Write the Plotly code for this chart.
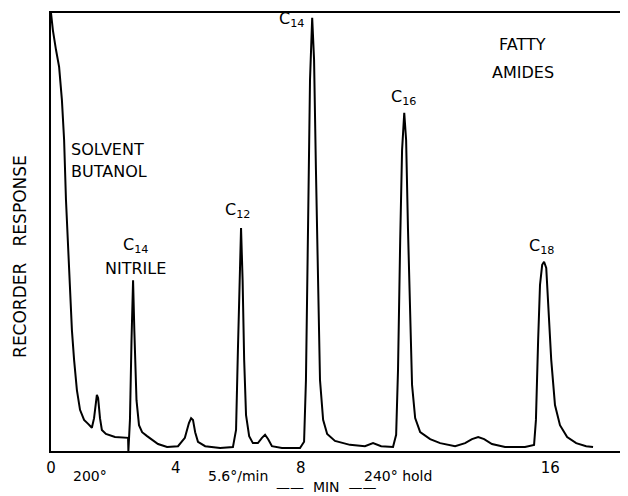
import plotly.graph_objects as go

TIME_MIN = [0.00, 0.06, 0.16, 0.26, 0.35, 0.42, 0.48, 0.54, 0.61, 0.67, 0.74, 0.83, 0.93, 1.06, 1.19, 1.31,
            1.38, 1.44, 1.47, 1.51, 1.57, 1.63, 1.76, 2.05, 2.47, 2.48, 2.53, 2.58, 2.63, 2.67, 2.74, 2.82,
            2.92, 3.08, 3.24, 3.43, 3.72, 4.07, 4.29, 4.42, 4.49, 4.55, 4.62, 4.71, 4.94, 5.42, 5.83, 5.93,
            5.99, 6.04, 6.09, 6.14, 6.19, 6.25, 6.35, 6.47, 6.63, 6.76, 6.86, 6.96, 7.08, 7.40, 7.98, 8.11,
            8.17, 8.24, 8.30, 8.37, 8.43, 8.49, 8.56, 8.62, 8.72, 8.85, 9.10, 9.58, 10.06, 10.32, 10.58, 10.96,
            11.06, 11.12, 11.19, 11.25, 11.32, 11.38, 11.44, 11.51, 11.57, 11.67, 11.83, 12.15, 12.47, 12.95,
            13.27, 13.49, 13.69, 13.88, 14.13, 14.55, 15.19, 15.48, 15.54, 15.61, 15.67, 15.74, 15.80, 15.87,
            15.93, 16.03, 16.15, 16.31, 16.54, 16.83, 17.15, 17.37]
RESPONSE = [100.0, 96.1, 91.6, 87.7, 80.1, 71.0, 57.3, 48.2, 37.9, 27.6, 20.8, 13.9, 9.4, 7.1, 6.2, 5.3,
            7.5, 12.1, 12.8, 12.1, 7.5, 4.8, 3.9, 3.2, 3.0, 0.0, 7.1, 25.3, 39.0, 27.6, 11.6, 5.9,
            4.3, 3.4, 2.5, 1.6, 0.9, 1.1, 3.0, 6.4, 7.5, 7.1, 4.3, 2.1, 1.1, 0.7, 0.9, 4.8,
            23.1, 39.0, 50.9, 39.0, 20.8, 8.2, 3.4, 1.8, 1.8, 3.0, 3.7, 2.7, 1.1, 0.7, 0.7, 2.1,
            16.2, 52.7, 84.7, 98.9, 89.3, 64.2, 36.8, 16.2, 7.1, 3.9, 2.3, 1.4, 1.1, 1.8, 1.1, 0.9,
            3.7, 18.5, 48.2, 68.7, 77.2, 71.0, 50.5, 29.9, 15.1, 7.5, 4.3, 2.7, 1.8, 1.1,
            1.8, 2.7, 3.2, 2.7, 1.6, 0.9, 0.9, 1.4, 7.1, 25.3, 37.9, 42.5, 43.2, 41.8,
            34.5, 20.8, 10.5, 5.9, 3.2, 1.8, 1.1, 0.9]

TICK_VALUES = [0, 4, 8, 16]
TICK_LABELS = ["0", "4", "8", "16"]

# Peak / region labels: (text, time, response)
PEAK_LABELS = [
    ("C<sub>14</sub>", 7.70, 98.6),
    ("C<sub>14</sub>", 2.70, 47.0),
    ("NITRILE", 2.70, 41.6),
    ("C<sub>12</sub>", 5.97, 54.8),
    ("C<sub>16</sub>", 11.30, 80.6),
    ("C<sub>18</sub>", 15.71, 46.8),
]
LEFT_LABELS = [("SOLVENT", 0.58, 68.9), ("BUTANOL", 0.58, 63.7)]
CENTER_LABELS = [("FATTY", 15.12, 92.7), ("AMIDES", 15.12, 86.5)]

# Temperature program notes below the axis: (text, time, paper-y)
PROGRAM_NOTES = [("200°", 1.25, -0.057), ("5.6°/min", 5.99, -0.057), ("240° hold", 11.12, -0.057),
                 ("——  MIN  ——", 8.81, -0.082)]

Y_TITLE = "RECORDER\u00a0\u00a0\u00a0RESPONSE"

FONT = "DejaVu Sans"

fig = go.Figure()
fig.add_trace(go.Scatter(x=TIME_MIN, y=RESPONSE, mode="lines",
                         line=dict(color="black", width=2), hoverinfo="skip", showlegend=False))

for text, t, r in PEAK_LABELS + CENTER_LABELS:
    fig.add_annotation(x=t, y=r, text=text, showarrow=False, xanchor="center", yanchor="middle",
                       font=dict(family=FONT, size=16, color="black"))
for text, t, r in LEFT_LABELS:
    fig.add_annotation(x=t, y=r, text=text, showarrow=False, xanchor="left", yanchor="middle",
                       font=dict(family=FONT, size=16, color="black"))
for text, t, py in PROGRAM_NOTES:
    fig.add_annotation(x=t, y=py, yref="paper", text=text, showarrow=False, xanchor="center",
                       yanchor="middle", font=dict(family=FONT, size=14, color="black"))

# Y axis title (rotated), placed slightly below the plot's middle as in the original
fig.add_annotation(x=-0.054, y=0.445, xref="paper", yref="paper", text=Y_TITLE, textangle=-90,
                   showarrow=False, xanchor="center", yanchor="middle",
                   font=dict(family=FONT, size=17, color="black"))

# The page body adds an 8px offset, so the figure is 8px smaller and margins are reduced by 8px.
fig.update_layout(
    width=620, height=488,
    margin=dict(l=43, r=0, t=5, b=45),
    paper_bgcolor="white", plot_bgcolor="white",
    font=dict(family=FONT, color="black"),
    xaxis=dict(range=[0, 18.49], tickvals=TICK_VALUES, ticktext=TICK_LABELS, automargin=False,
               showgrid=False, zeroline=False, showline=True, mirror=True,
               linecolor="black", linewidth=1.5, ticks="outside", ticklen=2,
               tickcolor="rgba(0,0,0,0)", tickfont=dict(family=FONT, size=15)),
    yaxis=dict(range=[0, 100], showticklabels=False, showgrid=False, zeroline=False, automargin=False,
               showline=True, linecolor="black", linewidth=1.5, ticks=""),
)

fig.write_html("out.html")
